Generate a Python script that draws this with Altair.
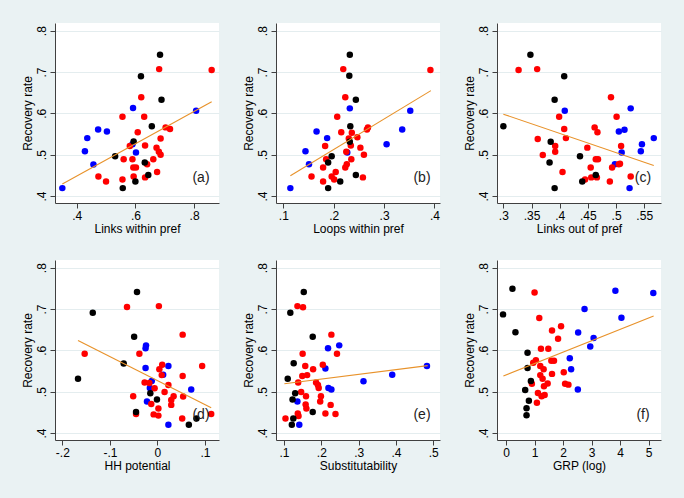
import altair as alt
import pandas as pd
import jinja2
from altair.utils.html import HTML_TEMPLATE

# ---------------- data ----------------
A_BLACK = [(0.684, 0.742), (0.619, 0.690), (0.689, 0.633), (0.656, 0.569), (0.594, 0.532),
           (0.531, 0.496), (0.632, 0.481), (0.644, 0.451), (0.600, 0.435), (0.557, 0.419)]
A_BLUE = [(0.351, 0.419), (0.428, 0.508), (0.436, 0.540), (0.473, 0.561), (0.503, 0.556),
          (0.457, 0.476), (0.592, 0.613), (0.602, 0.505), (0.807, 0.606), (0.590, 0.525)]
A_RED = [(0.681, 0.707), (0.860, 0.705), (0.620, 0.639), (0.630, 0.592), (0.556, 0.592),
         (0.608, 0.554), (0.703, 0.566), (0.718, 0.562), (0.686, 0.539), (0.581, 0.521),
         (0.633, 0.522), (0.672, 0.517), (0.680, 0.507), (0.686, 0.500), (0.560, 0.489),
         (0.590, 0.489), (0.661, 0.489), (0.593, 0.469), (0.602, 0.469), (0.640, 0.477),
         (0.474, 0.447), (0.500, 0.435), (0.556, 0.440), (0.594, 0.447), (0.633, 0.445),
         (0.674, 0.458)]
A_FIT = [(0.351, 0.429), (0.860, 0.628)]

B_BLACK = [(0.232, 0.742), (0.231, 0.691), (0.244, 0.633), (0.233, 0.569), (0.232, 0.531),
           (0.196, 0.496), (0.189, 0.481), (0.244, 0.451), (0.213, 0.435), (0.189, 0.419)]
B_BLUE = [(0.114, 0.419), (0.144, 0.508), (0.151, 0.477), (0.166, 0.556), (0.187, 0.540),
          (0.232, 0.612), (0.227, 0.505), (0.305, 0.525), (0.336, 0.561), (0.352, 0.606)]
B_RED = [(0.219, 0.707), (0.392, 0.705), (0.223, 0.639), (0.207, 0.592), (0.215, 0.554),
         (0.266, 0.561), (0.268, 0.566), (0.247, 0.542), (0.230, 0.539), (0.183, 0.521),
         (0.234, 0.522), (0.253, 0.517), (0.225, 0.507), (0.260, 0.500), (0.185, 0.489),
         (0.235, 0.489), (0.179, 0.469), (0.223, 0.469), (0.226, 0.477), (0.204, 0.458),
         (0.156, 0.447), (0.179, 0.435), (0.201, 0.440), (0.196, 0.447), (0.258, 0.445),
         (0.236, 0.553)]
B_FIT = [(0.114, 0.449), (0.393, 0.655)]

C_BLACK = [(0.300, 0.569), (0.348, 0.742), (0.408, 0.690), (0.391, 0.633), (0.384, 0.531),
           (0.382, 0.481), (0.436, 0.496), (0.464, 0.451), (0.440, 0.435), (0.391, 0.419)]
C_BLUE = [(0.409, 0.606), (0.526, 0.612), (0.505, 0.556), (0.515, 0.560), (0.567, 0.540),
          (0.546, 0.525), (0.544, 0.508), (0.510, 0.505), (0.498, 0.477), (0.524, 0.419)]
C_RED = [(0.327, 0.705), (0.360, 0.707), (0.491, 0.639), (0.399, 0.592), (0.501, 0.592),
         (0.408, 0.562), (0.462, 0.566), (0.467, 0.554), (0.411, 0.540), (0.361, 0.538),
         (0.392, 0.521), (0.449, 0.517), (0.509, 0.521), (0.392, 0.507), (0.370, 0.499),
         (0.464, 0.489), (0.468, 0.489), (0.455, 0.469), (0.493, 0.469), (0.505, 0.477),
         (0.507, 0.478), (0.405, 0.458), (0.445, 0.440), (0.456, 0.445), (0.466, 0.445),
         (0.489, 0.435), (0.526, 0.447)]
C_FIT = [(0.300, 0.598), (0.567, 0.474)]

D_BLACK = [(-0.043, 0.741), (-0.136, 0.691), (-0.049, 0.633), (-0.071, 0.568), (-0.167, 0.531),
           (-0.015, 0.496), (-0.001, 0.481), (-0.045, 0.451), (0.082, 0.435), (0.066, 0.420)]
D_BLUE = [(-0.024, 0.612), (-0.025, 0.605), (-0.025, 0.557), (0.023, 0.562), (0.012, 0.541),
          (-0.012, 0.526), (0.071, 0.505), (-0.016, 0.509), (-0.022, 0.476), (0.023, 0.420)]
D_RED = [(-0.064, 0.705), (0.003, 0.707), (0.053, 0.638), (-0.153, 0.592), (-0.038, 0.592),
         (0.094, 0.562), (0.010, 0.565), (0.004, 0.554), (0.009, 0.540), (0.053, 0.538),
         (-0.027, 0.522), (-0.017, 0.521), (0.023, 0.516), (-0.006, 0.508), (0.015, 0.499),
         (-0.051, 0.489), (0.034, 0.489), (0.054, 0.488), (-0.013, 0.470), (0.029, 0.480),
         (0.029, 0.468), (0.002, 0.459), (-0.008, 0.445), (0.002, 0.442), (-0.045, 0.446),
         (0.052, 0.435), (0.113, 0.446)]
D_FIT = [(-0.167, 0.624), (0.113, 0.461)]

E_BLACK = [(0.153, 0.741), (0.117, 0.691), (0.177, 0.633), (0.126, 0.569), (0.110, 0.531),
           (0.130, 0.496), (0.123, 0.481), (0.177, 0.451), (0.125, 0.435), (0.121, 0.420)]
E_BLUE = [(0.218, 0.605), (0.248, 0.612), (0.211, 0.556), (0.219, 0.509), (0.227, 0.505),
          (0.313, 0.525), (0.390, 0.541), (0.483, 0.562), (0.136, 0.476), (0.141, 0.420)]
E_RED = [(0.136, 0.707), (0.151, 0.704), (0.227, 0.638), (0.242, 0.592), (0.150, 0.592),
         (0.204, 0.565), (0.157, 0.562), (0.162, 0.540), (0.149, 0.538), (0.178, 0.554),
         (0.138, 0.522), (0.186, 0.522), (0.191, 0.516), (0.193, 0.509), (0.146, 0.499),
         (0.159, 0.489), (0.199, 0.489), (0.197, 0.476), (0.158, 0.469), (0.160, 0.459),
         (0.225, 0.468), (0.211, 0.447), (0.238, 0.446), (0.137, 0.447), (0.139, 0.441),
         (0.104, 0.435)]
E_FIT = [(0.101, 0.519), (0.485, 0.563)]

F_BLACK = [(0.224, 0.749), (-0.106, 0.687), (0.329, 0.644), (0.753, 0.594), (0.753, 0.557),
           (0.871, 0.526), (0.671, 0.504), (0.800, 0.478), (0.718, 0.460), (0.718, 0.443)]
F_BLUE = [(3.835, 0.744), (5.165, 0.739), (2.753, 0.700), (4.047, 0.679), (2.529, 0.643),
          (3.071, 0.630), (2.953, 0.609), (2.235, 0.581), (2.282, 0.554), (2.518, 0.505)]
F_RED = [(1.000, 0.740), (1.165, 0.678), (1.929, 0.658), (1.612, 0.648), (1.824, 0.628),
         (1.224, 0.604), (1.482, 0.604), (1.047, 0.576), (0.953, 0.570), (1.588, 0.575),
         (1.682, 0.575), (1.200, 0.562), (1.318, 0.554), (1.200, 0.540), (1.612, 0.543),
         (1.282, 0.531), (2.024, 0.547), (1.459, 0.520), (1.329, 0.513), (2.071, 0.519),
         (2.188, 0.517), (0.906, 0.519), (1.118, 0.497), (1.247, 0.489), (1.353, 0.492),
         (1.082, 0.473)]
F_FIT = [(-0.094, 0.538), (5.176, 0.683)]

X_TITLES = ["Links within pref", "Loops within pref", "Links out of pref",
            "HH potential", "Substitutability", "GRP (log)"]
PANEL_TAGS = ["(a)", "(b)", "(c)", "(d)", "(e)", "(f)"]
X_TICKS = [[0.4, 0.6, 0.8], [0.1, 0.2, 0.3, 0.4], [0.3, 0.35, 0.4, 0.45, 0.5, 0.55],
           [-0.2, -0.1, 0.0, 0.1], [0.1, 0.2, 0.3, 0.4, 0.5], [0, 1, 2, 3, 4, 5]]
X_DOMAINS = [[0.326, 0.885], [0.0855, 0.411], [0.2887, 0.5798],
             [-0.2154, 0.1294], [0.0786, 0.518], [-0.318, 5.435]]
Y_TICKS = [0.4, 0.5, 0.6, 0.7, 0.8]
Y_DOMAIN = [0.383, 0.8186]

GROUPS = ["blue", "red", "black"]
GROUP_COLORS = ["#0000FF", "#FF0000", "#000000"]

# ---------------- style ----------------
BG = "#EAF2F3"
AXIS_COL = "#404040"
FIT_COL = "#E8922A"
FONT = "Liberation Sans"
W, H = 164, 180

X_LABEL_EXPR = "datum.value == 0 ? '0' : replace(replace(format(datum.value, '~g'), '\u2212', '-'), '0.', '.')"
Y_LABEL_EXPR = "replace(format(datum.value, '.1f'), '0.', '.')"


def panel(black, blue, red, fit, i):
    rows = []
    for g, pts in (("blue", blue), ("red", red), ("black", black)):
        for k, (x, y) in enumerate(pts):
            rows.append({"x": x, "y": y, "g": g, "o": GROUPS.index(g) * 100 + k})
    df = pd.DataFrame(rows)
    fdf = pd.DataFrame({"x": [p[0] for p in fit], "y": [p[1] for p in fit]})

    xs = alt.Scale(domain=X_DOMAINS[i], nice=False, zero=False)
    ys = alt.Scale(domain=Y_DOMAIN, nice=False, zero=False)

    pts = alt.Chart(df).mark_circle(size=42, opacity=1).encode(
        x=alt.X("x:Q", scale=xs, title=X_TITLES[i],
                axis=alt.Axis(values=X_TICKS[i], tickCount=20, labelExpr=X_LABEL_EXPR,
                              grid=False, labelOverlap=False)),
        y=alt.Y("y:Q", scale=ys, title="Recovery rate",
                axis=alt.Axis(values=Y_TICKS, tickCount=20, labelExpr=Y_LABEL_EXPR, grid=True,
                              labelOverlap=False,
                              labelAngle=270, labelAlign="center", labelBaseline="bottom")),
        color=alt.Color("g:N", scale=alt.Scale(domain=GROUPS, range=GROUP_COLORS), legend=None),
        order=alt.Order("o:Q"),
    )
    line = alt.Chart(fdf).mark_line(color=FIT_COL, strokeWidth=1.1).encode(x="x:Q", y="y:Q")
    tag = alt.Chart(pd.DataFrame({"t": [PANEL_TAGS[i]]})).mark_text(
        font=FONT, fontSize=14, color="#222222", align="center", baseline="middle"
    ).encode(text="t:N", x=alt.value(146), y=alt.value(155))
    return alt.layer(pts, line, tag).properties(width=W, height=H)


panels = [
    panel(A_BLACK, A_BLUE, A_RED, A_FIT, 0),
    panel(B_BLACK, B_BLUE, B_RED, B_FIT, 1),
    panel(C_BLACK, C_BLUE, C_RED, C_FIT, 2),
    panel(D_BLACK, D_BLUE, D_RED, D_FIT, 3),
    panel(E_BLACK, E_BLUE, E_RED, E_FIT, 4),
    panel(F_BLACK, F_BLUE, F_RED, F_FIT, 5),
]

chart = alt.concat(
    *panels, columns=3, spacing=57, bounds="flush"
).resolve_scale(
    x="independent", y="independent"
).properties(
    background=BG,
    padding={"left": 13, "top": 15, "right": 5, "bottom": 5},
).configure_view(
    fill="white", stroke=None
).configure_axis(
    domainColor=AXIS_COL, domainWidth=1, tickColor=AXIS_COL, tickSize=5, tickWidth=1,
    labelFont=FONT, labelFontSize=12, labelColor="#000000", labelPadding=2,
    titleFont=FONT, titleFontSize=12, titleColor="#000000", titleFontWeight="normal",
    gridColor="#E4EDEF", gridWidth=1,
).configure_axisX(
    titlePadding=2
).configure_axisY(
    titlePadding=1
)


class _BgTemplate(jinja2.Template):
    def render(self, *args, **kwargs):
        html = HTML_TEMPLATE.render(*args, **kwargs)
        return html.replace("<head>", "<head><style>html,body{background:%s;}</style>" % BG, 1)


_tmpl = _BgTemplate("x")

try:
    chart.save("out.html", embed_options={"renderer": "svg", "actions": False}, template=_tmpl)
except Exception:
    chart.save("out.html", embed_options={"renderer": "svg", "actions": False})
